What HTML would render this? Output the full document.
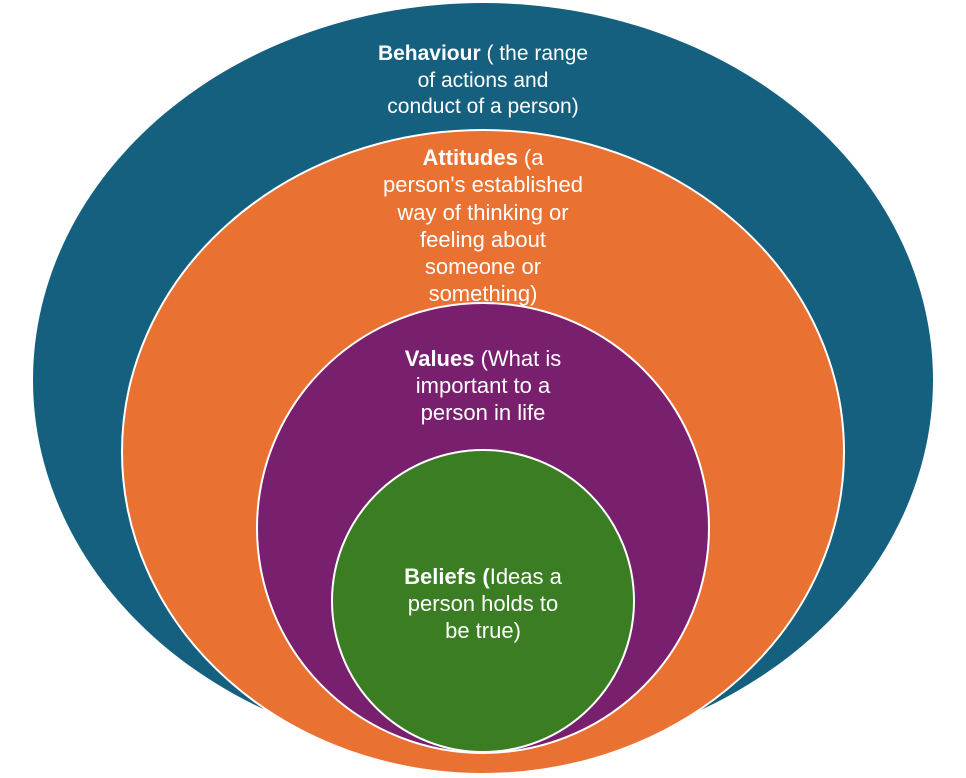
<!DOCTYPE html>
<html><head><meta charset="utf-8"><style>
html,body{margin:0;padding:0;background:#fff;}
body{width:966px;height:778px;position:relative;overflow:hidden;font-family:"Liberation Sans",sans-serif;}
.t{position:absolute;color:#fff;font-size:22px;text-align:center;line-height:26.5px;transform:translateX(-50%);white-space:nowrap;}
b{font-weight:bold;}
</style></head><body>
<svg width="966" height="778" style="position:absolute;left:0;top:0">
<ellipse cx="483" cy="380" rx="450" ry="377" fill="#16607f"/>
<ellipse cx="483" cy="452" rx="361" ry="322" fill="#e97132" stroke="#fff" stroke-width="2"/>
<ellipse cx="483" cy="528" rx="226" ry="225" fill="#78206e" stroke="#fff" stroke-width="2"/>
<circle cx="483" cy="601" r="151" fill="#3b7d23" stroke="#fff" stroke-width="2"/>
</svg>
<div class="t" style="left:483px;top:41px;font-size:21px"><b>Behaviour</b> ( the range<br>of actions and<br>conduct of a person)</div>
<div class="t" style="left:483px;top:144px;line-height:27.3px"><b>Attitudes</b> (a<br>person's established<br>way of thinking or<br>feeling about<br>someone or<br>something)</div>
<div class="t" style="left:483px;top:345px;line-height:27px"><b>Values</b> (What is<br>important to a<br>person in life</div>
<div class="t" style="left:483px;top:563px;line-height:27px"><b>Beliefs (</b>Ideas a<br>person holds to<br>be true)</div>
</body></html>
